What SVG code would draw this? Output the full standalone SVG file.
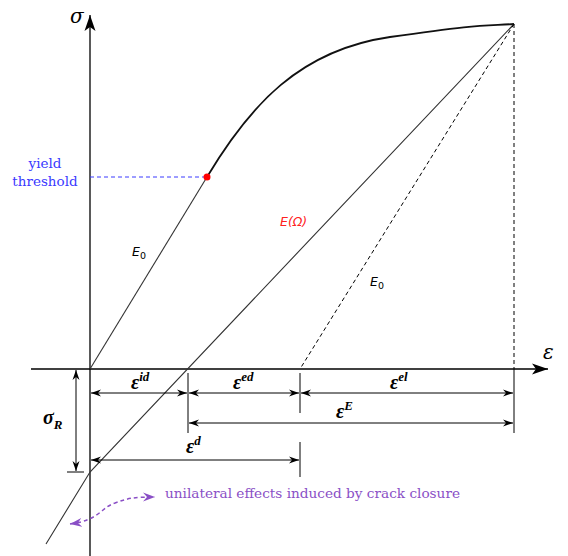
<svg xmlns="http://www.w3.org/2000/svg" width="568" height="556" viewBox="0 0 568 556">
<style>
.ax{stroke:#000;stroke-width:1.3;fill:none}
.ln{stroke:#333;stroke-width:1.1;fill:none}
.dim{stroke:#000;stroke-width:1;fill:none}
.dash{stroke:#000;stroke-width:1;fill:none;stroke-dasharray:4,3}
.lbl{font-family:"Liberation Serif",serif;font-weight:bold;font-style:italic;fill:#000}
.it{font-family:"DejaVu Sans",sans-serif;font-style:italic}
.ser{font-family:"DejaVu Serif","Liberation Serif",serif}
</style>
<defs>
<marker id="ah" viewBox="0 0 10 10" refX="10" refY="5" markerWidth="10" markerHeight="10" markerUnits="userSpaceOnUse" orient="auto-start-reverse">
<path d="M0,1.5 L10,5 L0,8.5 L3,5 Z" fill="#000"/>
</marker>
<marker id="axh" viewBox="0 0 16 12" refX="16" refY="6" markerWidth="16" markerHeight="12" markerUnits="userSpaceOnUse" orient="auto">
<path d="M0,0.5 L16,6 L0,11.5 L4,6 Z" fill="#000"/>
</marker>
<marker id="ph" viewBox="0 0 12 10" refX="12" refY="5" markerWidth="12" markerHeight="10" markerUnits="userSpaceOnUse" orient="auto-start-reverse">
<path d="M0,0.5 L12,5 L0,9.5 L4,5 Z" fill="#8a4fc6"/>
</marker>
</defs>
<g id="connectors">
<line class="ax" x1="90" y1="556" x2="90" y2="15" marker-end="url(#axh)"/>
<line class="ax" x1="31" y1="369" x2="548" y2="369" marker-end="url(#axh)"/>
<line class="ln" x1="90" y1="369" x2="207" y2="177"/>
<path d="M207,177 C250,105 300,50 390,37 S480,26 514,24" stroke="#111" stroke-width="1.8" fill="none"/>
<polyline class="ln" points="514,24 90,472 46,544"/>
<line class="dash" x1="514" y1="24" x2="300" y2="369"/>
<line class="dash" x1="514" y1="24" x2="514" y2="369"/>
<line x1="90" y1="177" x2="207" y2="177" stroke="#3a3aff" stroke-width="1" stroke-dasharray="4,3"/>
<line class="dim" x1="514" y1="369" x2="514" y2="433"/>
<line class="dim" x1="188" y1="373" x2="188" y2="433"/>
<line class="dim" x1="300" y1="373" x2="300" y2="413"/>
<line class="dim" x1="300" y1="442" x2="300" y2="477"/>
<line class="dim" x1="91" y1="393" x2="187" y2="393" marker-start="url(#ah)" marker-end="url(#ah)"/>
<line class="dim" x1="189" y1="393" x2="299" y2="393" marker-start="url(#ah)" marker-end="url(#ah)"/>
<line class="dim" x1="301" y1="393" x2="513" y2="393" marker-start="url(#ah)" marker-end="url(#ah)"/>
<line class="dim" x1="189" y1="423" x2="513" y2="423" marker-start="url(#ah)" marker-end="url(#ah)"/>
<line class="dim" x1="91" y1="460" x2="299" y2="460" marker-start="url(#ah)" marker-end="url(#ah)"/>
<line class="dim" x1="76" y1="370" x2="76" y2="471" marker-start="url(#ah)" marker-end="url(#ah)"/>
<line class="dim" x1="67" y1="472" x2="84" y2="472"/>
<path d="M70,524 C100,520 100,508 115,503 C128,498 135,497 155,497" stroke="#8a4fc6" stroke-width="1.5" fill="none" stroke-dasharray="4,3" marker-start="url(#ph)" marker-end="url(#ph)"/>
</g>
<g id="yield-point"><circle cx="207" cy="177" r="3.5" fill="#ff0000"/></g>
<g id="sigma-axis-label"><text x="70" y="23" class="ser" font-style="italic" font-size="20" fill="#000">σ</text></g>
<g id="eps-axis-label"><text x="543" y="359" class="ser" font-style="italic" font-size="20" fill="#000">ε</text></g>
<g id="yield-threshold">
<text x="45" y="168" class="ser" font-size="13.5" fill="#3a3aff" text-anchor="middle">yield</text>
<text x="45" y="186" class="ser" font-size="13.5" fill="#3a3aff" text-anchor="middle">threshold</text>
</g>
<g id="E0-label"><text x="132" y="256" class="it" font-size="12.5" fill="#000">E<tspan font-size="9.5" dy="3" font-style="normal">0</tspan></text></g>
<g id="EOmega-label"><text x="280" y="226" class="it" font-size="12.5" fill="#ff2020">E(Ω)</text></g>
<g id="E0-label-2"><text x="370" y="286" class="it" font-size="12.5" fill="#000">E<tspan font-size="9.5" dy="3" font-style="normal">0</tspan></text></g>
<g id="eps-id"><text x="131" y="389" class="lbl" font-size="20">ε<tspan font-size="13" dy="-8">id</tspan></text></g>
<g id="eps-ed"><text x="233" y="389" class="lbl" font-size="20">ε<tspan font-size="13" dy="-8">ed</tspan></text></g>
<g id="eps-el"><text x="390" y="389" class="lbl" font-size="20">ε<tspan font-size="13" dy="-8">el</tspan></text></g>
<g id="eps-E"><text x="336" y="418" class="lbl" font-size="20">ε<tspan font-size="13" dy="-8">E</tspan></text></g>
<g id="eps-d"><text x="186" y="453" class="lbl" font-size="20">ε<tspan font-size="13" dy="-8">d</tspan></text></g>
<g id="sigma-R"><text x="43" y="424" class="lbl" font-size="20">σ<tspan font-size="13" dy="5">R</tspan></text></g>
<g id="unilateral-note"><text x="165" y="498" class="ser" font-size="13" fill="#8a4fc6" textLength="295" lengthAdjust="spacingAndGlyphs">unilateral effects induced by crack closure</text></g>
</svg>
